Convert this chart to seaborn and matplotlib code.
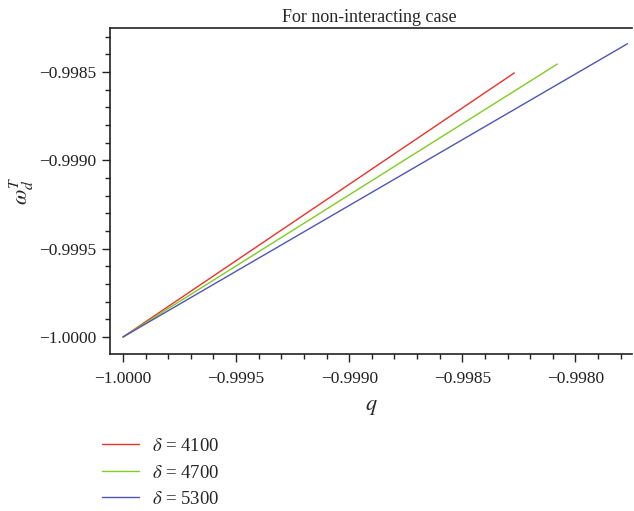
import matplotlib
matplotlib.use("Agg")
import matplotlib.pyplot as plt
import seaborn as sns
import pandas as pd
from matplotlib.ticker import MultipleLocator, FuncFormatter

deltas = ["4100", "4700", "5300"]
q_start = [-1.0, -1.0, -1.0]
q_end = [-0.99827, -0.99808, -0.99777]
w_start = [-1.0, -1.0, -1.0]
w_end = [-0.998505, -0.998455, -0.998340]
colors = ["#e8322b", "#80cc22", "#4f55b3"]

rows = []
for d, qs, qe, ws, we in zip(deltas, q_start, q_end, w_start, w_end):
    lab = r"$\delta$ = " + d
    rows.append({"q": qs, "w": ws, "series": lab})
    rows.append({"q": qe, "w": we, "series": lab})
df = pd.DataFrame(rows)

sns.set_style("ticks")
plt.rcParams["font.family"] = ["Liberation Serif", "DejaVu Serif"]
plt.rcParams["mathtext.fontset"] = "stix"
plt.rcParams["axes.unicode_minus"] = True

fig = plt.figure(figsize=(6.34, 5.11), dpi=100)
ax = fig.add_axes([110 / 634, 1 - 354 / 511, 522 / 634, 326 / 511])

labels = [r"$\delta$ = " + d for d in deltas]
sns.lineplot(data=df, x="q", y="w", hue="series", hue_order=labels,
             palette=colors, ax=ax, linewidth=1.0, sort=False, estimator=None)

ax.set_xlim(-1.0000575, -0.99775)
ax.set_ylim(-1.0000962, -0.998251)

ax.xaxis.set_major_locator(MultipleLocator(0.0005))
ax.xaxis.set_minor_locator(MultipleLocator(0.0001))
ax.yaxis.set_major_locator(MultipleLocator(0.0005))
ax.yaxis.set_minor_locator(MultipleLocator(0.0001))
fmt = FuncFormatter(lambda v, p: ("\u2212" if v < 0 else "") + f"{abs(v):.4f}")
ax.xaxis.set_major_formatter(fmt)
ax.yaxis.set_major_formatter(fmt)

ax.tick_params(axis="both", which="major", length=6, width=1.0, labelsize=12.5,
               direction="out", colors="#222222", labelcolor="#222222")
ax.tick_params(axis="x", which="major", pad=6)
ax.tick_params(axis="y", which="major", pad=4)
ax.tick_params(axis="both", which="minor", length=3.5, width=1.0, direction="out", colors="#222222")

for s in ["left", "bottom", "top"]:
    ax.spines[s].set_linewidth(1.2)
    ax.spines[s].set_color("#222222")
ax.spines["right"].set_visible(False)

ax.set_xlabel(r"$q$", fontsize=16, labelpad=8)
ax.set_ylabel(r"$\omega_d^T$", fontsize=16, labelpad=2)
ax.set_title("For non-interacting case", fontsize=13, pad=4, x=0.497)

handles, labs = ax.get_legend_handles_labels()
ax.legend(handles, labs, loc="upper left", bbox_to_anchor=(85 / 634, 1 - 421 / 511),
          bbox_transform=fig.transFigure, frameon=False, fontsize=13.5,
          handlelength=2.0, handletextpad=0.7, labelspacing=0.5)

fig.savefig("out.png", dpi=100)
